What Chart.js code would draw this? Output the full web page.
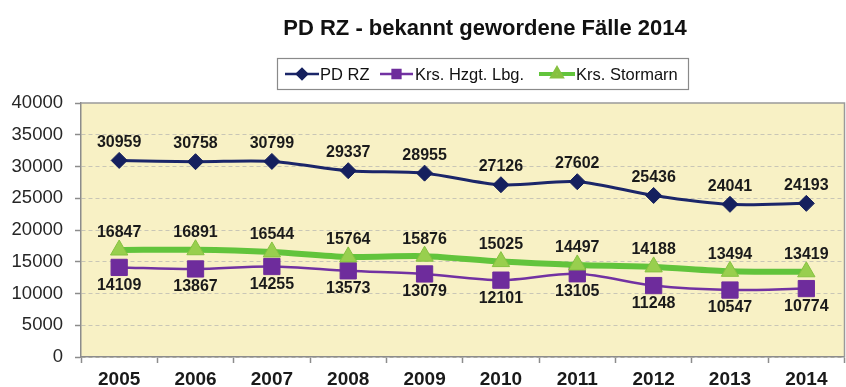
<!DOCTYPE html>
<html>
<head>
<meta charset="utf-8">
<script src="https://cdn.jsdelivr.net/npm/chart.js@4.4.1/dist/chart.umd.min.js"></script>
<style>
  html, body { margin: 0; padding: 0; background: #fff; overflow: hidden; }
  #wrap { width: 857px; height: 387px; position: relative; }
</style>
</head>
<body>
<div id="wrap"><canvas id="chart"></canvas></div>
<script>
const jahre = ["2005", "2006", "2007", "2008", "2009", "2010", "2011", "2012", "2013", "2014"];
const pdRz = [30959, 30758, 30799, 29337, 28955, 27126, 27602, 25436, 24041, 24193];
const krsHzgt = [14109, 13867, 14255, 13573, 13079, 12101, 13105, 11248, 10547, 10774];
const krsStormarn = [16847, 16891, 16544, 15764, 15876, 15025, 14497, 14188, 13494, 13419];
const serienNamen = ["PD RZ", "Krs. Hzgt. Lbg.", "Krs. Stormarn"];
const titel = "PD RZ - bekannt gewordene Fälle 2014";

const FONT = 'Arial, "Liberation Sans", sans-serif';

// gelber Hintergrund + Rahmen der Zeichenfläche
const plotFlaeche = {
  id: "plotFlaeche",
  beforeDraw(chart) {
    const { ctx, chartArea: a } = chart;
    ctx.save();
    ctx.fillStyle = "#f8f1c5";
    ctx.fillRect(a.left, a.top, a.right - a.left, a.bottom - a.top);
    ctx.restore();
  },
  beforeDatasetsDraw(chart) {
    const { ctx, chartArea: a } = chart;
    ctx.save();
    ctx.strokeStyle = "#9a9a9a";
    ctx.lineWidth = 1.5;
    ctx.beginPath();
    ctx.moveTo(a.left, a.top);
    ctx.lineTo(a.right, a.top);
    ctx.lineTo(a.right, a.bottom);
    ctx.stroke();
    ctx.restore();
  }
};

// Werte an die Punkte schreiben
const wertLabels = {
  id: "wertLabels",
  afterDatasetsDraw(chart) {
    const ctx = chart.ctx;
    ctx.save();
    ctx.font = "bold 16px " + FONT;
    ctx.fillStyle = "#1a1a1a";
    ctx.textAlign = "center";
    ctx.textBaseline = "middle";
    chart.data.datasets.forEach((ds, i) => {
      chart.getDatasetMeta(i).data.forEach((pt, j) => {
        ctx.fillText(String(ds.data[j]), pt.x, pt.y + ds.labelOffset);
      });
    });
    ctx.restore();
  }
};

// Titel und Legende mit Rahmen
const kopf = {
  id: "kopf",
  afterDraw(chart) {
    const ctx = chart.ctx;
    ctx.save();
    ctx.fillStyle = "#111";
    ctx.font = "bold 22px " + FONT;
    ctx.textAlign = "center";
    ctx.textBaseline = "alphabetic";
    ctx.fillText(titel, 485, 35);

    ctx.strokeStyle = "#8a8a8a";
    ctx.lineWidth = 1.2;
    ctx.strokeRect(277.5, 58.5, 411, 31);

    const y = 74;
    const eintraege = [
      { x0: 285, x1: 319, tx: 320 },
      { x0: 380, x1: 413, tx: 415 },
      { x0: 539, x1: 575, tx: 576 }
    ];
    ctx.font = "16.5px " + FONT;
    ctx.textAlign = "left";
    ctx.textBaseline = "middle";
    chart.data.datasets.forEach((ds, i) => {
      const e = eintraege[i];
      ctx.strokeStyle = ds.borderColor;
      ctx.lineWidth = i === 2 ? 4 : 2.5;
      ctx.beginPath();
      ctx.moveTo(e.x0, y);
      ctx.lineTo(e.x1, y);
      ctx.stroke();
      ctx.fillStyle = ds.pointBackgroundColor;
      ctx.strokeStyle = ds.pointBorderColor;
      Chart.helpers.drawPoint(ctx, {
        pointStyle: ds.pointStyle,
        radius: i === 1 ? 5.5 : 5,
        borderWidth: 1
      }, (e.x0 + e.x1) / 2, y);
      ctx.fillStyle = "#111";
      ctx.fillText(ds.label, e.tx, y + 1);
    });
    ctx.restore();
  }
};

new Chart(document.getElementById("chart"), {
  type: "line",
  data: {
    labels: jahre,
    datasets: [
      {
        label: serienNamen[0],
        data: pdRz,
        borderColor: "#1b2669",
        borderWidth: 3,
        pointStyle: "rectRot",
        pointRadius: 8,
        pointBackgroundColor: "#15205e",
        pointBorderColor: "#15205e",
        pointBorderWidth: 1,
        tension: 0.3,
        labelOffset: -18,
        order: 2
      },
      {
        label: serienNamen[1],
        data: krsHzgt,
        borderColor: "#7232a2",
        borderWidth: 2.5,
        pointStyle: "rect",
        pointRadius: 11.5,
        pointBackgroundColor: "#6e2c9c",
        pointBorderColor: "#6e2c9c",
        pointBorderWidth: 1,
        tension: 0.3,
        labelOffset: 18,
        order: 1
      },
      {
        label: serienNamen[2],
        data: krsStormarn,
        borderColor: "#62c43c",
        borderWidth: 6,
        pointStyle: "triangle",
        pointRadius: 10,
        pointBackgroundColor: "#98cf4e",
        pointBorderColor: "#86c140",
        pointBorderWidth: 1,
        tension: 0.3,
        labelOffset: -17,
        order: 0
      }
    ]
  },
  options: {
    responsive: true,
    maintainAspectRatio: false,
    animation: false,
    layout: { padding: { top: 103, right: 1, left: 0, bottom: 0 } },
    plugins: {
      legend: { display: false },
      title: { display: false },
      tooltip: { enabled: false }
    },
    scales: {
      x: {
        offset: true,
        afterFit: s => { s.height = 30; },
        grid: {
          offset: true,
          drawOnChartArea: false,
          drawTicks: true,
          tickLength: 6,
          tickColor: "#8c8c8c",
          tickWidth: 1.5
        },
        border: { color: "#8c8c8c", width: 1.5 },
        ticks: {
          color: "#1a1a1a",
          font: { family: FONT, size: 19, weight: "bold" },
          padding: 5,
          maxRotation: 0
        }
      },
      y: {
        min: 0,
        max: 40000,
        afterFit: s => { s.width = 81; },
        grid: {
          color: ctx => ctx.tick && ctx.tick.value === 40000 ? "rgba(0,0,0,0)" : "#c9c6b6",
          lineWidth: 1,
          tickLength: 6,
          tickColor: "#8c8c8c",
          tickWidth: 1.5
        },
        border: { color: "#8c8c8c", width: 1.5, dash: [4, 3] },
        ticks: {
          stepSize: 5000,
          color: "#262626",
          font: { family: FONT, size: 18.5 },
          padding: 12,
          callback: v => String(v)
        }
      }
    }
  },
  plugins: [plotFlaeche, wertLabels, kopf]
});
</script>
</body>
</html>
